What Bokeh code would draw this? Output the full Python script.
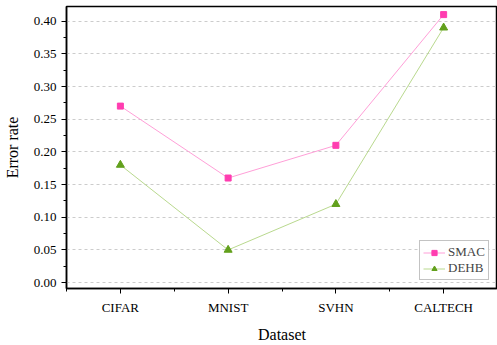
from bokeh.plotting import figure
from bokeh.models import FixedTicker, NumeralTickFormatter, Range1d, Legend, LegendItem
from bokeh.embed import file_html
from bokeh.resources import INLINE

datasets = ["CIFAR", "MNIST", "SVHN", "CALTECH"]
smac = [0.27, 0.16, 0.21, 0.41]
dehb = [0.18, 0.05, 0.12, 0.39]
y_ticks = [0.0, 0.05, 0.10, 0.15, 0.20, 0.25, 0.30, 0.35, 0.40]

xs = list(range(1, len(datasets) + 1))
FONT = "Liberation Serif"

p = figure(width=497, height=345, output_backend="svg", toolbar_location=None,
           x_range=Range1d(0.5, 4.5), y_range=Range1d(-0.009, 0.4224),
           min_border_left=63, min_border_right=0, min_border_top=6, min_border_bottom=50)

p.outline_line_color = "black"
p.outline_line_width = 1.5
p.xgrid.grid_line_color = None
p.ygrid.grid_line_color = "#cccccc"
p.ygrid.grid_line_dash = "3 3"
p.ygrid.grid_line_width = 1

p.xaxis.ticker = FixedTicker(ticks=xs, minor_ticks=[0.5, 1.5, 2.5, 3.5, 4.5])
p.xaxis.major_label_overrides = {x: d for x, d in zip(xs, datasets)}
minor_y = [round(t + 0.025, 3) for t in y_ticks] + [-0.025]
p.yaxis.ticker = FixedTicker(ticks=y_ticks, minor_ticks=minor_y)
p.yaxis.formatter = NumeralTickFormatter(format="0.00")

for ax in (p.xaxis[0], p.yaxis[0]):
    ax.axis_line_color = "black"
    ax.axis_line_width = 1.5
    ax.major_tick_out = 5
    ax.major_tick_in = 0
    ax.minor_tick_out = 3
    ax.minor_tick_in = 0
    ax.major_tick_line_color = "black"
    ax.minor_tick_line_color = "black"
    ax.major_label_text_font = FONT
    ax.major_label_text_font_size = "13px"
    ax.major_label_text_color = "black"
    ax.axis_label_text_font = FONT
    ax.axis_label_text_font_size = "16px"
    ax.axis_label_text_font_style = "normal"
    ax.axis_label_text_color = "black"

p.xaxis.axis_label = "Dataset"
p.yaxis.axis_label = "Error rate"
p.xaxis.major_label_standoff = 6
p.xaxis.axis_label_standoff = 8
p.yaxis.major_label_standoff = 5
p.yaxis.axis_label_standoff = 10

l1 = p.line(xs, smac, line_color="#ff9fd8", line_width=1)
s1 = p.scatter(xs, smac, marker="square", size=6, fill_color="#ff3db0", line_color="#ff3db0")
l2 = p.line(xs, dehb, line_color="#b9d98e", line_width=1)
s2 = p.scatter(xs, dehb, marker="triangle", size=8, fill_color="#62a01c", line_color="#62a01c")

legend = Legend(items=[LegendItem(label="SMAC", renderers=[l1, s1]),
                       LegendItem(label="DEHB", renderers=[l2, s2])],
                location=(353, 8))
legend.label_text_font = FONT
legend.label_text_font_size = "13px"
legend.border_line_color = "#888888"
legend.border_line_width = 1
legend.padding = 3
legend.spacing = 0
legend.margin = 0
legend.glyph_width = 22
legend.glyph_height = 13
legend.label_height = 13
legend.label_standoff = 3
p.add_layout(legend, "center")

open("out.html", "w").write(file_html(p, INLINE))
